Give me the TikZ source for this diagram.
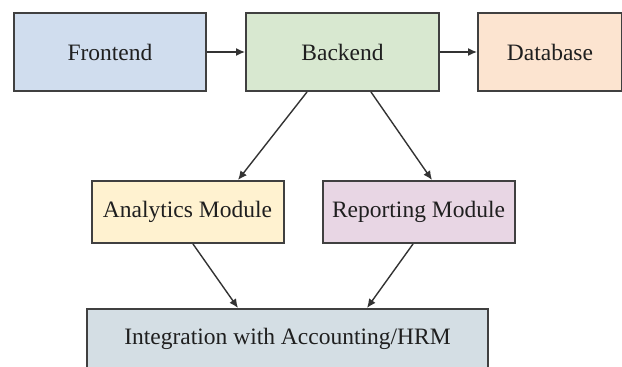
\documentclass[tikz,border=0pt]{standalone}
\usepackage{fontspec}
\setmainfont{Liberation Serif}
\usepackage{tikz}
\usepackage{xcolor}
\usetikzlibrary{positioning, arrows.meta}

\definecolor{feblue}{RGB}{208,221,238}
\definecolor{begreen}{RGB}{216,232,208}
\definecolor{dbpeach}{RGB}{252,228,208}
\definecolor{anyellow}{RGB}{255,242,208}
\definecolor{repink}{RGB}{232,214,228}
\definecolor{ingray}{RGB}{212,222,228}
\definecolor{edgegray}{RGB}{64,64,64}

\begin{document}
\begin{tikzpicture}[x=1pt, y=1pt, node distance={37pt},
    box/.style = {draw=edgegray, line width=2pt, rectangle, text=black!88,
                  font=\fontsize{23.5}{28}\selectfont, inner sep=0pt},
    topbox/.style = {box, minimum height=78pt},
    modbox/.style = {box, minimum height=62pt, minimum width=192pt},
    link/.style = {draw=black!80, line width=1.4pt, -{Latex[length=9pt, width=8pt]}}]
    \useasboundingbox (0,0) rectangle (622,367);
    \node[topbox, fill=feblue, minimum width=192pt] (front) at (110,315) {Frontend};
    \node[topbox, fill=begreen, minimum width=193pt] (back) [right=38pt of front] {Backend};
    \node[topbox, fill=dbpeach, minimum width=144pt] (db) [right=of back] {Database};
    \node[modbox, fill=anyellow] (anal) at (187.5,155) {Analytics Module};
    \node[modbox, fill=repink] (report) at (418.5,155) {Reporting Module};
    \node[box, fill=ingray, minimum width=401pt, minimum height=60pt] (integ) at (287.5,28) {Integration with Accounting/HRM};
    \draw[link] (front) -- (back);
    \draw[link] (back) -- (db);
    \draw[link] ([xshift=-35.5pt]back.south) -- ([xshift=50.5pt]anal.north);
    \draw[link] ([xshift=28.5pt]back.south) -- ([xshift=13.5pt]report.north);
    \draw[link] ([xshift=5.5pt]anal.south) -- ([xshift=-49.5pt]integ.north);
    \draw[link] ([xshift=-5.5pt]report.south) -- ([xshift=79.5pt]integ.north);
\end{tikzpicture}
\end{document}
